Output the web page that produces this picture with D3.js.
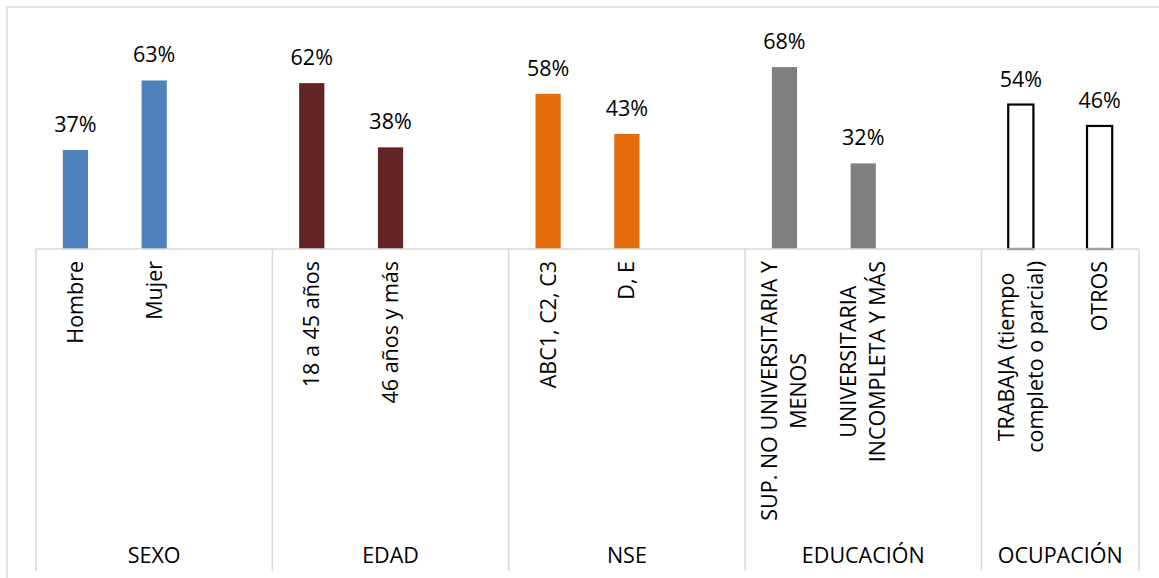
<!DOCTYPE html>
<html>

<head>
    <meta charset="UTF-8">
    <title></title>
    <style>
        body {
            margin: 0;
            background: #fff;
            font-family: 'Open Sans', 'Noto Sans', sans-serif;
        }

        .frame,
        .axisline,
        .divider {
            stroke: #d9d9d9;
            stroke-width: 1.5;
            fill: none;
        }

        text {
            fill: #000;
            font-size: 21.5px;
        }
    </style>
</head>

<body>
    <script src="https://d3js.org/d3.v7.min.js"></script>
    <script>
        /// data

        var groups = ["SEXO", "EDAD", "NSE", "EDUCACIÓN", "OCUPACIÓN"];
        var categories = ["Hombre", "Mujer", "18 a 45 años", "46 años y más", "ABC1, C2, C3", "D, E",
            "SUP. NO UNIVERSITARIA Y\nMENOS", "UNIVERSITARIA\nINCOMPLETA Y MÁS",
            "TRABAJA (tiempo\ncompleto o parcial)", "OTROS"];
        var categoryGroup = [0, 0, 1, 1, 2, 2, 3, 3, 4, 4];
        var values = [0.37, 0.63, 0.62, 0.38, 0.58, 0.43, 0.68, 0.32, 0.54, 0.46];
        var groupColors = ["#4f81bd", "#632523", "#e46c0a", "#7f7f7f", "#ffffff"];
        var yDomain = [0, 0.8];

        /// params

        var width = 1159,
            height = 578;
        var margin = {
            top: 35,
            left: 36,
            right: 20,
            axis: 249,
            bottom: 571
        };

        var svg = d3.select("body").append("svg")
            .attr("width", width)
            .attr("height", height);

        // chart area frame (top and left edges visible)
        svg.append("path")
            .attr("class", "frame")
            .attr("d", "M7," + height + "V7H" + width);

        // slots: each group's categories, then a blank spacer between groups
        var slots = [];
        groups.forEach(function(g, gi) {
            categories.forEach(function(c, ci) {
                if (categoryGroup[ci] === gi) slots.push("c" + ci);
            });
            if (gi < groups.length - 1) slots.push("gap" + gi);
        });

        var x = d3.scaleBand()
            .domain(slots)
            .range([margin.left, width - margin.right]);

        var y = d3.scaleLinear()
            .domain(yDomain)
            .range([margin.axis, margin.top]);

        var barW = x.bandwidth() * 0.32;

        // group boundaries
        var bounds = [x.range()[0]];
        groups.forEach(function(g, gi) {
            if (gi < groups.length - 1) bounds.push(x("gap" + gi) + x.bandwidth());
        });
        bounds.push(x.range()[1]);

        // bars
        svg.append("g")
            .selectAll("rect")
            .data(values)
            .enter().append("rect")
            .attr("x", function(d, i) {
                return x("c" + i) + (x.bandwidth() - barW) / 2;
            })
            .attr("y", function(d) {
                return y(d);
            })
            .attr("width", barW)
            .attr("height", function(d) {
                return y(0) - y(d);
            })
            .attr("fill", function(d, i) {
                return groupColors[categoryGroup[i]];
            })
            .attr("stroke", function(d, i) {
                return categoryGroup[i] === 4 ? "#000" : "none";
            })
            .attr("stroke-width", 2.2);

        // value labels
        svg.append("g")
            .selectAll("text")
            .data(values)
            .enter().append("text")
            .attr("x", function(d, i) {
                return x("c" + i) + x.bandwidth() / 2;
            })
            .attr("y", function(d) {
                return y(d) - 18;
            })
            .attr("text-anchor", "middle")
            .text(d3.format(".0%"));

        // axis line and group dividers
        svg.append("line")
            .attr("class", "axisline")
            .attr("x1", x.range()[0])
            .attr("x2", x.range()[1])
            .attr("y1", y(0))
            .attr("y2", y(0));

        svg.append("g")
            .selectAll("line")
            .data(bounds)
            .enter().append("line")
            .attr("class", "divider")
            .attr("x1", function(d) { return d; })
            .attr("x2", function(d) { return d; })
            .attr("y1", y(0))
            .attr("y2", margin.bottom);

        // category labels, rotated, top-aligned, lines centred in block
        var lineGap = 29,
            labelTop = y(0) + 12;
        var catLabels = svg.append("g")
            .selectAll("g")
            .data(categories)
            .enter().append("g")
            .attr("transform", function(d, i) {
                return "translate(" + (x("c" + i) + x.bandwidth() / 2) + ",0) rotate(-90)";
            });

        catLabels.each(function(d) {
            var lines = d.split("\n");
            var g = d3.select(this);
            var texts = g.selectAll("text")
                .data(lines)
                .enter().append("text")
                .attr("text-anchor", "middle")
                .attr("dy", function(l, li) {
                    return (7.5 + (li - (lines.length - 1) / 2) * lineGap) + "px";
                })
                .text(function(l) { return l; });
            var maxW = d3.max(texts.nodes(), function(n) {
                return n.getComputedTextLength();
            });
            texts.attr("x", -(labelTop + maxW / 2));
        });

        // group labels
        svg.append("g")
            .selectAll("text")
            .data(groups)
            .enter().append("text")
            .attr("x", function(d, i) {
                return (bounds[i] + bounds[i + 1]) / 2;
            })
            .attr("y", 563)
            .attr("text-anchor", "middle")
            .text(function(d) { return d; });
    </script>
</body>

</html>
